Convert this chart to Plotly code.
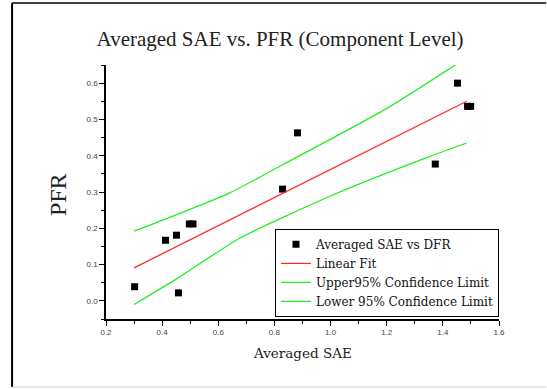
import plotly.graph_objects as go

# Data points (Averaged SAE vs PFR)
sae = [0.302, 0.412, 0.451, 0.458, 0.497, 0.510, 0.829, 0.882, 1.373, 1.452, 1.488, 1.499]
pfr = [0.039, 0.167, 0.181, 0.022, 0.212, 0.212, 0.308, 0.463, 0.377, 0.600, 0.536, 0.536]

# Linear fit
fit_x = [0.30, 1.485]
fit_y = [0.091, 0.550]

# Upper 95% confidence limit
up_x = [0.30, 0.45, 0.639, 0.829, 1.193, 1.446]
up_y = [0.192, 0.237, 0.297, 0.375, 0.527, 0.651]

# Lower 95% confidence limit
lo_x = [0.30, 0.45, 0.675, 1.0, 1.354, 1.485]
lo_y = [-0.010, 0.060, 0.172, 0.289, 0.398, 0.435]

x_ticks = [0.2, 0.4, 0.6, 0.8, 1.0, 1.2, 1.4, 1.6]
y_ticks = [0.0, 0.1, 0.2, 0.3, 0.4, 0.5, 0.6]

fig = go.Figure()
fig.add_trace(go.Scatter(x=sae, y=pfr, mode="markers", name="Averaged SAE vs DFR",
                         marker=dict(symbol="square", size=7, color="black")))
fig.add_trace(go.Scatter(x=fit_x, y=fit_y, mode="lines", name="Linear Fit",
                         line=dict(color="#ff2a2a", width=1.3)))
fig.add_trace(go.Scatter(x=up_x, y=up_y, mode="lines", name="Upper95% Confidence Limit",
                         line=dict(color="#22ee22", width=1.3, shape="spline", smoothing=0.6)))
fig.add_trace(go.Scatter(x=lo_x, y=lo_y, mode="lines", name="Lower 95% Confidence Limit",
                         line=dict(color="#22ee22", width=1.3, shape="spline", smoothing=0.6)))

tickfont = dict(family="Liberation Sans", size=8, color="#444")

fig.update_layout(
    width=547, height=389,
    margin=dict(l=106, r=48, t=65, b=70),
    paper_bgcolor="white", plot_bgcolor="white",
    showlegend=True,
    title=dict(text="Averaged SAE vs. PFR (Component Level)",
               font=dict(family="Liberation Serif", size=21, color="#222"),
               x=0.512, xref="container", xanchor="center",
               y=1 - 39 / 389, yref="container", yanchor="middle"),
    legend=dict(x=0.43, y=0.355, xanchor="left", yanchor="top",
                bgcolor="white", bordercolor="black", borderwidth=1,
                font=dict(family="DejaVu Serif", size=12, color="#111"),
                tracegroupgap=0),
    xaxis=dict(range=[0.2, 1.6], tickvals=x_ticks,
               ticktext=[f"{v:.1f}" for v in x_ticks],
               showgrid=False, zeroline=False, showline=True, linecolor="black",
               linewidth=1.5, ticks="outside", ticklen=5, tickcolor="black",
               tickfont=tickfont,
               minor=dict(dtick=0.1, ticks="outside", ticklen=3, tickcolor="black", showgrid=False)),
    yaxis=dict(range=[-0.05, 0.65], tickvals=y_ticks,
               ticktext=[f"{v:.1f}" for v in y_ticks],
               showgrid=False, zeroline=False, showline=True, linecolor="black",
               linewidth=1.5, ticks="outside", ticklen=5, tickcolor="black",
               tickfont=tickfont,
               minor=dict(dtick=0.05, ticks="outside", ticklen=3, tickcolor="black", showgrid=False)),
    annotations=[
        dict(text="Averaged SAE", xref="paper", yref="paper", x=0.5, y=-0.135,
             xanchor="center", yanchor="middle", showarrow=False,
             font=dict(family="DejaVu Serif", size=13.5, color="#222")),
        dict(text="PFR", xref="paper", yref="paper", x=-0.122, y=0.488,
             xanchor="center", yanchor="middle", showarrow=False, textangle=-90,
             font=dict(family="Liberation Serif", size=24, color="#222")),
    ],
    shapes=[
        dict(type="line", xref="paper", yref="paper", x0=-0.239, x1=-0.239, y0=-0.268, y1=1.244,
             line=dict(color="black", width=2)),
        dict(type="line", xref="paper", yref="paper", x0=-0.239, x1=1.12, y0=1.244, y1=1.244,
             line=dict(color="black", width=1.5)),
        dict(type="line", xref="paper", yref="paper", x0=-0.239, x1=1.12, y0=-0.268, y1=-0.268,
             line=dict(color="#ccc", width=1)),
    ],
)

fig.write_html("out.html")
